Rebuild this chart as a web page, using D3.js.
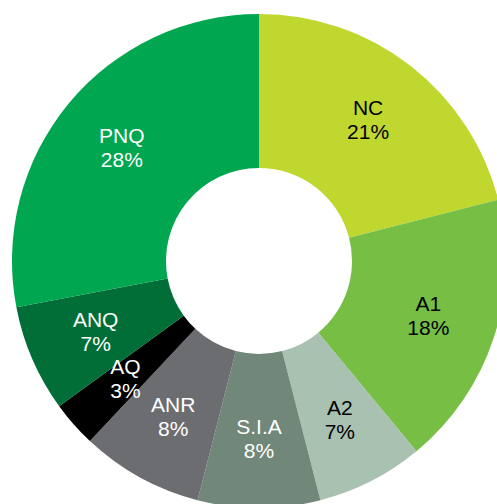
<!DOCTYPE html>
<meta charset="utf-8">
<style>
body { margin: 0; background: #fff; }
.lbl { font-family: "Liberation Sans", Arial, sans-serif; font-size: 21px; }
</style>
<body>
<script src="https://d3js.org/d3.v7.min.js"></script>
<script>

// slice data, clockwise from 12 o'clock
var categories = ["NC", "A1", "A2", "S.I.A", "ANR", "AQ", "ANQ", "PNQ"];
var values = [21, 18, 7, 8, 8, 3, 7, 28];
var colors = ["#c0d72f", "#76bf44", "#a8c1b1", "#718779", "#6c6d70", "#000000", "#006e36", "#00a650"];
var textColors = ["#000", "#000", "#000", "#fff", "#fff", "#fff", "#fff", "#fff"];

var width = 497, height = 504;
var cx = 259, cy = 261, outerR = 247, innerR = 93, labelR = 178;

var svg = d3.select("body").append("svg")
    .attr("width", width)
    .attr("height", height);

var g = svg.append("g")
    .attr("transform", "translate(" + cx + "," + cy + ")");

var data = categories.map(function(c, i) { return {name: c, value: values[i], i: i}; });

var pie = d3.pie().sort(null).value(function(d) { return d.value; });
var arc = d3.arc().innerRadius(innerR).outerRadius(outerR);
var labelArc = d3.arc().innerRadius(labelR).outerRadius(labelR);

var arcs = pie(data);

g.selectAll("path")
    .data(arcs)
  .enter().append("path")
    .attr("d", arc)
    .attr("fill", function(d) { return colors[d.data.i]; });

var lbl = g.selectAll("text")
    .data(arcs)
  .enter().append("text")
    .attr("class", "lbl")
    .attr("text-anchor", "middle")
    .attr("fill", function(d) { return textColors[d.data.i]; })
    .attr("transform", function(d) { return "translate(" + labelArc.centroid(d) + ")"; });

lbl.append("tspan")
    .attr("x", 0)
    .attr("y", -5)
    .text(function(d) { return d.data.name; });
lbl.append("tspan")
    .attr("x", 0)
    .attr("y", 19)
    .text(function(d) { return d.data.value + "%"; });

</script>
</body>
